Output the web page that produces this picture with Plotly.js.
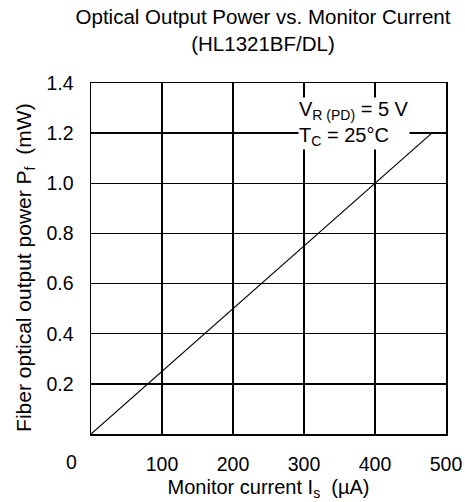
<!DOCTYPE html>
<html><head><meta charset="utf-8">
<script src="https://cdn.plot.ly/plotly-3.0.1.min.js"></script>
<style>html,body{margin:0;padding:0;background:#fff}#chart{width:465px;height:502px}</style>
</head><body><div id="chart"></div>
<script>
const currentUA = [0, 480];
const powerMW = [0, 1.2];
const xTicks = [100, 200, 300, 400, 500];
const yTicks = [0.2, 0.4, 0.6, 0.8, 1.0, 1.2, 1.4];
const yTickText = ['0.2', '0.4', '0.6', '0.8', '1.0', '1.2', '1.4'];

const font = 'Liberation Sans, Arial, Helvetica, sans-serif';

Plotly.newPlot('chart', [{
  x: currentUA, y: powerMW, mode: 'lines', type: 'scatter',
  line: {color: '#000', width: 1.2}, hoverinfo: 'skip', showlegend: false
}], {
  width: 465, height: 502,
  margin: {l: 91, r: 19, t: 83, b: 68},
  paper_bgcolor: '#fff', plot_bgcolor: '#fff',
  font: {family: font, color: '#000', size: 19.5},
  title: {text: 'Optical Output Power vs. Monitor Current<br>(HL1321BF/DL)',
    font: {size: 20.5, family: font, color: '#000'}, x: 0.5656, xanchor: 'center',
    xref: 'container', yref: 'container', y: 0.952, yanchor: 'middle', automargin: false},
  xaxis: {range: [0, 500], tickvals: xTicks, ticktext: xTicks.map(String),
    showgrid: true, gridcolor: '#000', gridwidth: 1.3, zeroline: false,
    showline: true, linecolor: '#000', linewidth: 1.5, mirror: true,
    ticks: '', ticklabelstandoff: 12, tickfont: {size: 19.5},
    title: {text: 'Monitor current I<sub>s</sub>  (µA)', font: {size: 20}, standoff: 6}},
  yaxis: {range: [0, 1.4], tickvals: yTicks, ticktext: yTickText,
    showgrid: true, gridcolor: '#000', gridwidth: 1.3, zeroline: false,
    showline: true, linecolor: '#000', linewidth: 1.5, mirror: true,
    ticks: '', ticklabelstandoff: 12, tickfont: {size: 19.5}},
  annotations: [
    {text: 'Fiber optical output power P<sub>f</sub>  (mW)', xref: 'paper', yref: 'paper',
     x: -0.186, y: 0.476, xanchor: 'center', yanchor: 'middle', textangle: -90,
     showarrow: false, font: {size: 21}},
    {text: '0', xref: 'paper', yref: 'paper', x: -0.054, y: -0.08, xanchor: 'center', yanchor: 'middle',
     showarrow: false, font: {size: 19.5}},
    {text: 'V<sub>R (PD)</sub> = 5 V<br>T<sub>C</sub> = 25°C', xref: 'x', yref: 'y', x: 292, y: 1.345,
     xanchor: 'left', yanchor: 'top', align: 'left', showarrow: false, bgcolor: '#fff',
     font: {size: 20}, borderpad: 0}
  ]
}, {displayModeBar: false, staticPlot: true});
</script></body></html>
